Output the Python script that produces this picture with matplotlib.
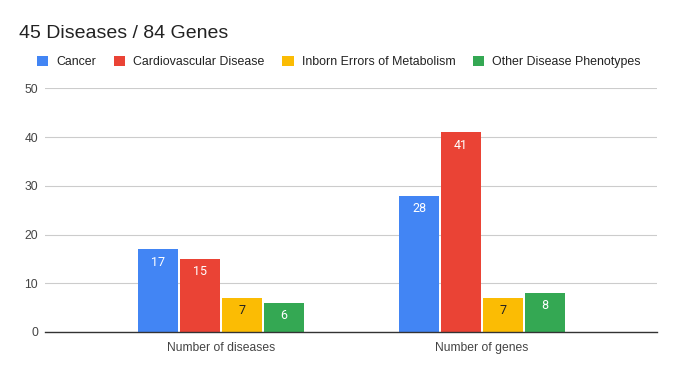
import matplotlib
matplotlib.use('Agg')
import matplotlib.pyplot as plt
import numpy as np

# Chart data
categories = ['Number of diseases', 'Number of genes']
series_names = ['Cancer', 'Cardiovascular Disease', 'Inborn Errors of Metabolism', 'Other Disease Phenotypes']
cancer = [17, 28]
cardio = [15, 41]
inborn = [7, 7]
other = [6, 8]
y_ticks = [0, 10, 20, 30, 40, 50]

colors = ['#4285f4', '#ea4335', '#fbbc04', '#34a853']
label_colors = ['white', 'white', '#222222', 'white']

plt.rcParams['font.family'] = ['Liberation Sans', 'DejaVu Sans']

fig = plt.figure(figsize=(6.76, 3.71), dpi=100)
ax = fig.add_axes([45 / 676, 39 / 371, 612 / 676, 243.7 / 371])

x = np.arange(len(categories))
bar_width = 0.151
step = 0.161
all_series = [cancer, cardio, inborn, other]

for i, (vals, name) in enumerate(zip(all_series, series_names)):
    pos = x + (i - 1.5) * step
    ax.bar(pos, vals, width=bar_width, color=colors[i], label=name, zorder=3)
    # value labels sit inside the top of each bar
    for p, v in zip(pos, vals):
        ax.annotate(str(v), (p, v), xytext=(0, -9.3), textcoords='offset points',
                    ha='center', va='center', color=label_colors[i], fontsize=9, zorder=4,
                    family=['Roboto', 'DejaVu Sans'])

ax.set_xlim(-0.674, 1.670)
ax.set_ylim(0, 50)
ax.set_yticks(y_ticks)
ax.set_xticks(x)
ax.set_xticklabels(categories)
ax.yaxis.grid(True, color='#cccccc', linewidth=0.8, zorder=0)
ax.tick_params(axis='both', length=0, labelsize=8.7, labelcolor='#444444')
ax.tick_params(axis='x', pad=7)
ax.tick_params(axis='y', pad=5)
for side in ['top', 'right', 'left']:
    ax.spines[side].set_visible(False)
ax.spines['bottom'].set_color('#333333')
ax.spines['bottom'].set_linewidth(1.0)
ax.spines['bottom'].set_zorder(5)

fig.text(19 / 676, 1 - 33 / 371, '45 Diseases / 84 Genes', fontsize=14, color='#222222',
         ha='left', va='center')

handles, labels = ax.get_legend_handles_labels()
leg = fig.legend(handles, labels, loc='center left', bbox_to_anchor=(37 / 676, 1 - 62 / 371),
                 ncol=4, frameon=False, fontsize=8.9, handlelength=0.9, handleheight=0.9,
                 handletextpad=0.65, columnspacing=1.45, borderaxespad=0, borderpad=0)
for t in leg.get_texts():
    t.set_color('#222222')

plt.savefig('out.png', dpi=100)
